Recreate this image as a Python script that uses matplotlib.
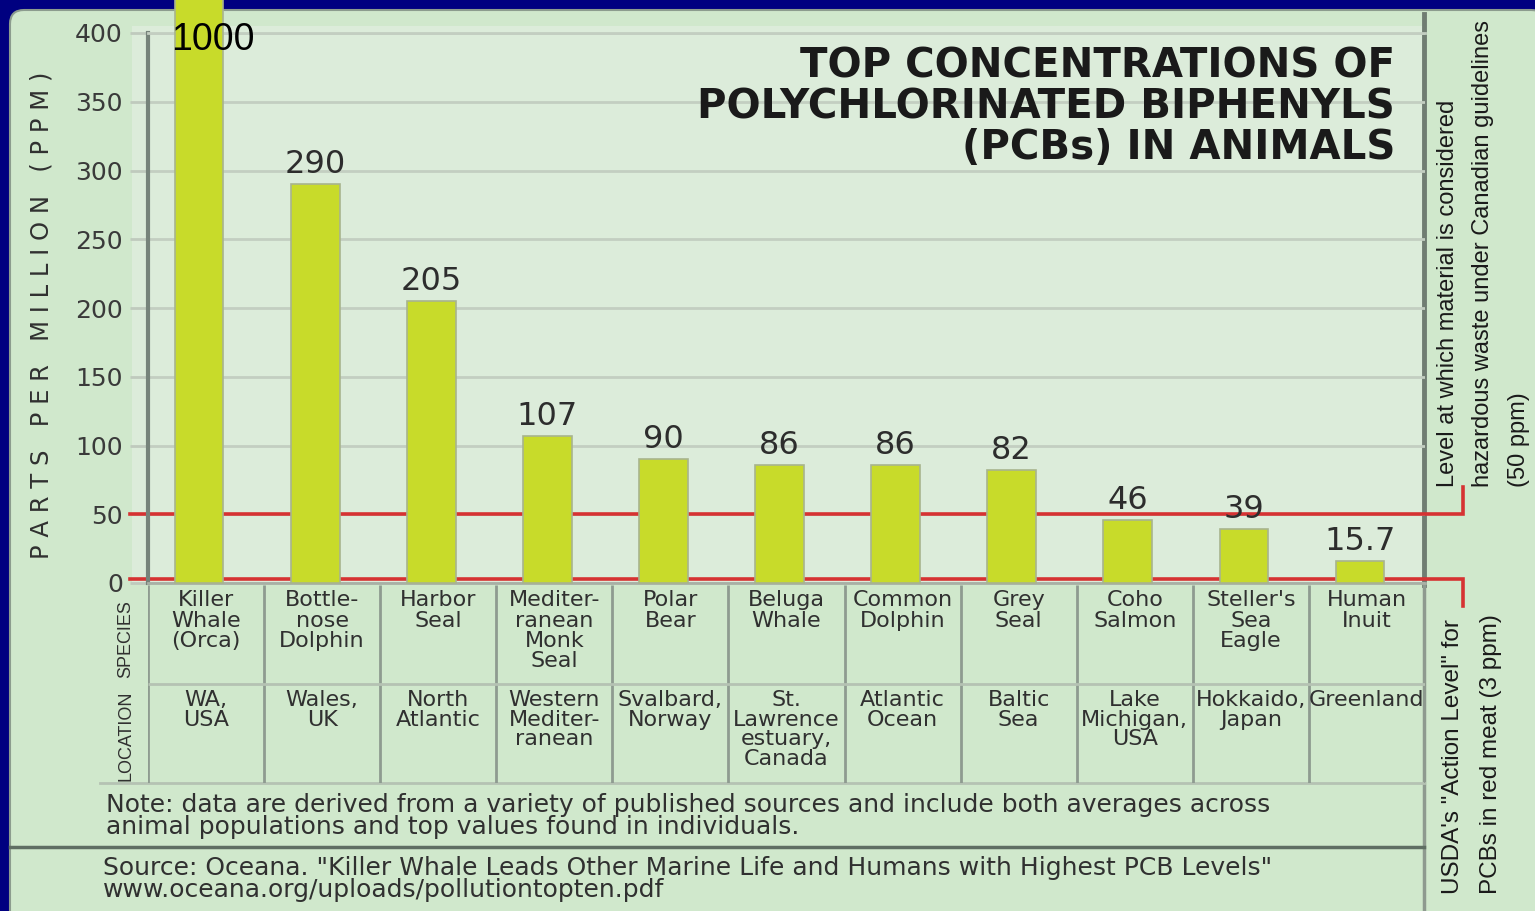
import numpy as np
import matplotlib
matplotlib.use('Agg')
import matplotlib.pyplot as plt
from matplotlib.patches import Rectangle, FancyBboxPatch

W, H = 1535, 911

species = ['Killer\nWhale\n(Orca)', 'Bottle-\nnose\nDolphin', 'Harbor\nSeal',
           'Mediter-\nranean\nMonk\nSeal', 'Polar\nBear', 'Beluga\nWhale',
           'Common\nDolphin', 'Grey\nSeal', 'Coho\nSalmon',
           "Steller's\nSea\nEagle", 'Human\nInuit']
locations = ['WA,\nUSA', 'Wales,\nUK', 'North\nAtlantic', 'Western\nMediter-\nranean',
             'Svalbard,\nNorway', 'St.\nLawrence\nestuary,\nCanada', 'Atlantic\nOcean',
             'Baltic\nSea', 'Lake\nMichigan,\nUSA', 'Hokkaido,\nJapan', 'Greenland']
ppm = [1000, 290, 205, 107, 90, 86, 86, 82, 46, 39, 15.7]
value_labels = ['1000', '290', '205', '107', '90', '86', '86', '82', '46', '39', '15.7']
yticks = [0, 50, 100, 150, 200, 250, 300, 350, 400]
canada_level = 50
usda_level = 3

title = 'TOP CONCENTRATIONS OF\nPOLYCHLORINATED BIPHENYLS\n(PCBs) IN ANIMALS'
ylabel_text = 'PARTS PER MILLION (PPM)'
note = ('Note: data are derived from a variety of published sources and include both averages across\n'
        'animal populations and top values found in individuals.')
source = ('Source: Oceana. "Killer Whale Leads Other Marine Life and Humans with Highest PCB Levels"\n'
          'www.oceana.org/uploads/pollutiontopten.pdf')
canada_note = ('Level at which material is considered\n'
               'hazardous waste under Canadian guidelines\n(50 ppm)')
usda_note = 'USDA\'s "Action Level" for\nPCBs in red meat (3 ppm)'

navy = '#000080'
panel_c = '#d0e8cc'
plot_c = '#dcecda'
bar_c = '#c8db2a'
red = '#d63232'
txt = '#303030'
narrow = 'Liberation Sans'


def fx(px):
    return px / W


def fy(py):
    return 1 - py / H


fig = plt.figure(figsize=(W / 100, H / 100), dpi=100)
fig.patch.set_facecolor(navy)

# background in pixel coordinates
bg = fig.add_axes([0, 0, 1, 1], zorder=-1)
bg.set_xlim(0, W)
bg.set_ylim(H, 0)
bg.axis('off')
bg.add_patch(FancyBboxPatch((10, 10), W, H + 20, boxstyle='round,pad=0,rounding_size=14',
                            fc=panel_c, ec='#8c9c8e', lw=1.5))
bg.add_patch(Rectangle((132, 26), 1293, 557, fc=plot_c, ec='none'))
bg.plot([1424, 1424], [14, 585], color='#707d72', lw=3.5)
bg.plot([1424, 1424], [585, 911], color='#8e9a8f', lw=2.5)
bg.plot([10, 1424], [847, 847], color='#5f6e63', lw=2.5)
bg.plot([100, 1424], [783, 783], color='#b5c2b3', lw=2)

# main chart
ax = fig.add_axes([fx(148), fy(583), fx(1425) - fx(148), fy(33) - fy(583)], zorder=0)
ax.set_facecolor('none')
x = np.arange(len(ppm))
ax.bar(x - 0.06, ppm, width=0.42, color=bar_c, edgecolor='#a8b48e', lw=1.2,
       zorder=3, clip_on=False)
ax.set_xlim(-0.5, 10.5)
ax.set_ylim(0, 400)
ax.set_xticks([])
ax.set_yticks(yticks)
ax.tick_params(axis='y', length=13, width=2, color='#bfcabd', pad=5,
               labelsize=18, labelcolor='#3a3a3a')
ax.yaxis.grid(True, color='#c3cec1', lw=2)
ax.set_axisbelow(True)
ax.spines['left'].set_color('#76837a')
ax.spines['left'].set_linewidth(3)
ax.spines['right'].set_visible(False)
ax.spines['top'].set_color('#c3cec1')
ax.spines['top'].set_linewidth(2)
ax.spines['bottom'].set_color('#a8b0a5')
ax.spines['bottom'].set_linewidth(2)

# threshold lines with connectors to the side notes
ax.plot([-0.655, 10.83, 10.83], [canada_level, canada_level, canada_level + 20],
        color=red, lw=2.6, zorder=2, clip_on=False, solid_joinstyle='miter')
ax.plot([-0.655, 10.83, 10.83], [usda_level, usda_level, usda_level - 20],
        color=red, lw=2.6, zorder=2, clip_on=False, solid_joinstyle='miter')

for xi, v, lab in zip(x, ppm, value_labels):
    if v > 400:
        ax.text(xi + 0.06, 395, lab, ha='center', va='center', fontsize=27,
                family='Liberation Sans', color='black', zorder=5)
    else:
        ax.text(xi - 0.06, v + 3, lab, ha='center', va='bottom', fontsize=23,
                color='#2d2d2d', zorder=5)

# species / location table
tab = fig.add_axes([fx(148), fy(783), fx(1425) - fx(148), fy(585) - fy(783)], zorder=0)
tab.set_facecolor('none')
tab.set_xlim(-0.5, 10.5)
tab.set_ylim(2, 0)
tab.axis('off')
tab.vlines(np.arange(-0.5, 11), 0, 2, colors='#8e9b90', lw=2)
tab.hlines(1, -0.5, 10.5, colors='#b5c2b3', lw=2)
for i, (s, loc) in enumerate(zip(species, locations)):
    tab.text(i, 0.055, s, ha='center', va='top', fontsize=16, linespacing=1.02, color=txt)
    tab.text(i, 1.065, loc, ha='center', va='top', fontsize=16, linespacing=0.97, color=txt)

T = bg.transData
fig.text(126, 639, 'SPECIES', transform=T, rotation=90, ha='center', va='center',
         fontsize=13, family=narrow, color=txt)
fig.text(126, 736, 'LOCATION', transform=T, rotation=90, ha='center', va='center',
         fontsize=13, family=narrow, color=txt)
fig.text(42, 315, ' '.join(ylabel_text), transform=T, rotation=90, ha='center',
         va='center', fontsize=17.5, color=txt)

fig.text(1395, 47, title, transform=T, ha='right', va='top', fontsize=29,
         weight='bold', linespacing=1.02, color='#1a1a1a', multialignment='right')
fig.text(106, 793, note, transform=T, ha='left', va='top', fontsize=18,
         linespacing=0.92, color=txt)
fig.text(103, 856, source, transform=T, ha='left', va='top', fontsize=18,
         linespacing=0.92, color=txt)

fig.text(1437, 487, canada_note, transform=T, rotation=90, ha='left', va='bottom',
         multialignment='left', fontsize=17, family=narrow, linespacing=1.78, color='#1a1a1a')
fig.text(1442, 614, usda_note, transform=T, rotation=90, ha='left', va='top',
         multialignment='left', fontsize=17.5, family=narrow, linespacing=1.95, color='#1a1a1a')

fig.savefig('out.png', dpi=100, facecolor=fig.get_facecolor())
